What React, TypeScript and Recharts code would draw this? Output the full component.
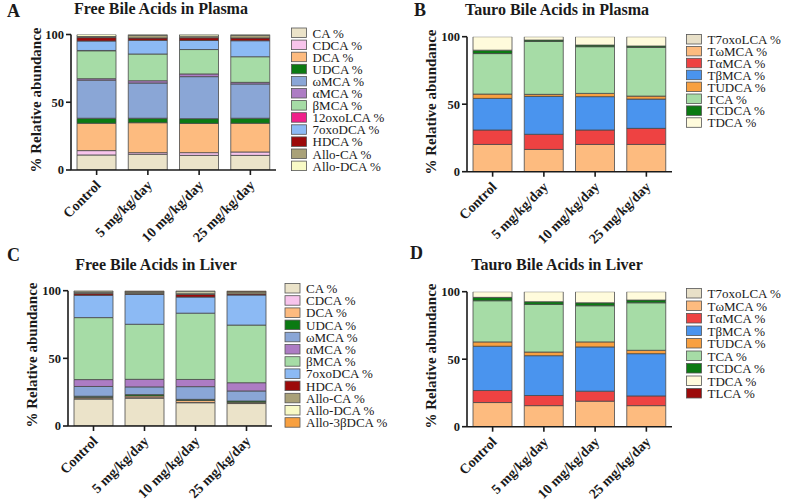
import { BarChart, Bar, XAxis, YAxis } from "recharts";

const groups = ["Control", "5 mg/kg/day", "10 mg/kg/day", "25 mg/kg/day"];
const yTicks = [0, 50, 100];

// [series name, % per group]
const freePlasma: [string, number[]][] = [
  ["CA %", [11.1, 11.6, 10.8, 10.8]],
  ["CDCA %", [3.2, 1.2, 2.0, 2.5]],
  ["DCA %", [20.2, 22.1, 21.6, 21.2]],
  ["UDCA %", [3.7, 3.3, 3.5, 3.7]],
  ["ωMCA %", [28.1, 26.0, 31.0, 25.3]],
  ["αMCA %", [1.1, 1.7, 2.0, 1.2]],
  ["βMCA %", [20.6, 19.7, 18.0, 18.9]],
  ["12oxoLCA %", [0.2, 0, 0, 0]],
  ["7oxoDCA %", [7.0, 10.1, 6.7, 11.8]],
  ["HDCA %", [2.5, 1.7, 2.0, 2.0]],
  ["Allo-CA %", [0.8, 2.0, 1.2, 2.0]],
  ["Allo-DCA %", [1.5, 0.6, 1.2, 0.6]],
];

const tauroPlasma: [string, number[]][] = [
  ["T7oxoLCA %", [0, 0, 0, 0]],
  ["TωMCA %", [20.2, 16.5, 20.2, 20.2]],
  ["TαMCA %", [10.7, 11.2, 10.7, 11.9]],
  ["TβMCA %", [23.4, 28.1, 24.7, 21.7]],
  ["TUDCA %", [3.2, 1.5, 2.4, 2.2]],
  ["TCA %", [30.0, 39.2, 34.6, 36.1]],
  ["TCDCA %", [2.5, 1.0, 1.2, 1.0]],
  ["TDCA %", [10.0, 2.5, 6.2, 6.9]],
];

const freeLiver: [string, number[]][] = [
  ["CA %", [20.0, 20.6, 17.2, 16.6]],
  ["CDCA %", [0.2, 0.3, 0.2, 0.2]],
  ["DCA %", [1.0, 1.3, 1.5, 0.8]],
  ["UDCA %", [0.8, 1.0, 0.8, 0.9]],
  ["ωMCA %", [7.2, 5.7, 9.4, 7.4]],
  ["αMCA %", [5.1, 5.6, 5.3, 6.1]],
  ["βMCA %", [45.8, 40.7, 49.0, 42.6]],
  ["7oxoDCA %", [16.5, 22.1, 11.9, 22.2]],
  ["HDCA %", [1.2, 0.5, 1.9, 0.8]],
  ["Allo-CA %", [0.8, 1.2, 1.0, 1.5]],
  ["Allo-DCA %", [1.2, 0.6, 1.5, 0.4]],
  ["Allo-3βDCA %", [0.2, 0.4, 0.3, 0.5]],
];

const tauroLiver: [string, number[]][] = [
  ["T7oxoLCA %", [0, 0, 0, 0]],
  ["TωMCA %", [17.9, 15.6, 18.9, 15.6]],
  ["TαMCA %", [8.9, 7.5, 7.4, 7.2]],
  ["TβMCA %", [32.8, 29.5, 32.8, 31.3]],
  ["TUDCA %", [3.2, 2.7, 3.7, 2.5]],
  ["TCA %", [30.5, 35.3, 26.8, 35.2]],
  ["TCDCA %", [2.5, 2.0, 2.2, 2.0]],
  ["TDCA %", [4.2, 7.4, 8.2, 6.2]],
  ["TLCA %", [0, 0, 0, 0]],
];

const colors: Record<string, string> = {
  "CA %": "#ebe3c9",
  "CDCA %": "#f8c4ec",
  "DCA %": "#fdbb7f",
  "UDCA %": "#0b7a12",
  "ωMCA %": "#8aa6d6",
  "αMCA %": "#ad7cc4",
  "βMCA %": "#a6dca6",
  "12oxoLCA %": "#f0208a",
  "7oxoDCA %": "#8cbaf4",
  "HDCA %": "#9c0a0a",
  "Allo-CA %": "#a9a178",
  "Allo-DCA %": "#f8fac6",
  "Allo-3βDCA %": "#f8a040",
  "T7oxoLCA %": "#e8e0c8",
  "TωMCA %": "#fdbb7f",
  "TαMCA %": "#ee4242",
  "TβMCA %": "#4a94ee",
  "TUDCA %": "#f8a040",
  "TCA %": "#a6dca6",
  "TCDCA %": "#0b7a12",
  "TDCA %": "#fffbdc",
  "TLCA %": "#9c0a0a",
};

const FONT = "'Liberation Serif', 'Times New Roman', serif";
const INK = "#1a1a1a";

function XTick(props: any) {
  const { x, y, payload } = props;
  const ax = x + 5, ay = y + 9;
  return (
    <text x={ax} y={ay} transform={`rotate(-45 ${ax} ${ay})`} textAnchor="end"
      fontFamily={FONT} fontWeight="bold" fontSize={14} fill={INK}>
      {payload.value}
    </text>
  );
}

type PanelProps = {
  left: number; top: number; w: number; h: number;
  plot: { l: number; t: number; r: number; b: number };
  series: [string, number[]][];
};

function Panel({ left, top, w, h, plot, series }: PanelProps) {
  const data = groups.map((g, i) => {
    const row: any = { name: g };
    series.forEach(([, v], j) => { row["k" + j] = v[i]; });
    return row;
  });
  const yw = 40, xh = 60;
  return (
    <div style={{ position: "absolute", left, top }}>
      <BarChart width={w} height={h} data={data} barSize={39}
        margin={{ top: plot.t, left: plot.l - yw, right: w - plot.r, bottom: h - plot.b - xh }}>
        <XAxis dataKey="name" height={xh} interval={0} tick={<XTick />} tickSize={5}
          axisLine={{ stroke: INK, strokeWidth: 1.6 }} tickLine={{ stroke: INK, strokeWidth: 1.6 }} />
        <YAxis width={yw} domain={[0, 100]} ticks={yTicks} tickSize={5} allowDataOverflow
          axisLine={{ stroke: INK, strokeWidth: 1.6 }} tickLine={{ stroke: INK, strokeWidth: 1.6 }}
          tick={{ fontFamily: FONT, fontWeight: "bold", fontSize: 12.5, fill: INK }} />
        {series.map(([n], j) => (
          <Bar key={n} dataKey={"k" + j} stackId="s" fill={colors[n]} stroke="#4a4a4a"
            strokeWidth={0.8} isAnimationActive={false} />
        ))}
      </BarChart>
    </div>
  );
}

function Legend({ x, y, step, series }: { x: number; y: number; step: number; series: [string, number[]][] }) {
  return (
    <g>
      {series.map(([n], i) => (
        <g key={n}>
          <rect x={x} y={y + i * step} width={15} height={9.5} fill={colors[n]} stroke="#555" strokeWidth={0.8} />
          <text x={x + 21} y={y + i * step + 9.5} fontFamily={FONT} fontSize={13} fill={INK}>{n}</text>
        </g>
      ))}
    </g>
  );
}

function Labels() {
  const bold = { fontFamily: FONT, fontWeight: "bold" as const, fill: INK };
  const ylab = (x: number, y: number) => (
    <text x={x} y={y} transform={`rotate(-90 ${x} ${y})`} textAnchor="middle" dominantBaseline="central"
      fontSize={15} {...bold}>% Relative abundance</text>
  );
  return (
    <svg width={790} height={504} style={{ position: "absolute", left: 0, top: 0, pointerEvents: "none" }}>
      <text x={7} y={17} fontSize={18} {...bold}>A</text>
      <text x={414} y={16} fontSize={18} {...bold}>B</text>
      <text x={7} y={261} fontSize={18} {...bold}>C</text>
      <text x={410} y={259} fontSize={18} {...bold}>D</text>
      <text x={161} y={14} textAnchor="middle" fontSize={16} {...bold}>Free Bile Acids in Plasma</text>
      <text x={557} y={15} textAnchor="middle" fontSize={16} {...bold}>Tauro Bile Acids in Plasma</text>
      <text x={156} y={270} textAnchor="middle" fontSize={16} {...bold}>Free Bile Acids in Liver</text>
      <text x={557} y={270} textAnchor="middle" fontSize={16} {...bold}>Tauro Bile Acids in Liver</text>
      {ylab(36, 100)}
      {ylab(431, 102)}
      {ylab(32, 355)}
      {ylab(431, 356)}
      <Legend x={291.5} y={28} step={12.1} series={freePlasma} />
      <Legend x={686.5} y={34.5} step={11.9} series={tauroPlasma} />
      <Legend x={285} y={283.5} step={12.2} series={freeLiver} />
      <Legend x={686.5} y={288.5} step={12.5} series={tauroLiver} />
    </svg>
  );
}

export default function App() {
  return (
    <div style={{ position: "absolute", left: 0, top: 0, width: 790, height: 504, background: "#fff" }}>
      <Panel left={0} top={0} w={395} h={250} plot={{ l: 71, t: 34.5, r: 276, b: 170 }} series={freePlasma} />
      <Panel left={395} top={0} w={395} h={250} plot={{ l: 72, t: 36.7, r: 277, b: 171.7 }} series={tauroPlasma} />
      <Panel left={0} top={250} w={395} h={254} plot={{ l: 68, t: 40.7, r: 272, b: 176 }} series={freeLiver} />
      <Panel left={395} top={250} w={395} h={254} plot={{ l: 72, t: 41.7, r: 277, b: 176.7 }} series={tauroLiver} />
      <Labels />
    </div>
  );
}
